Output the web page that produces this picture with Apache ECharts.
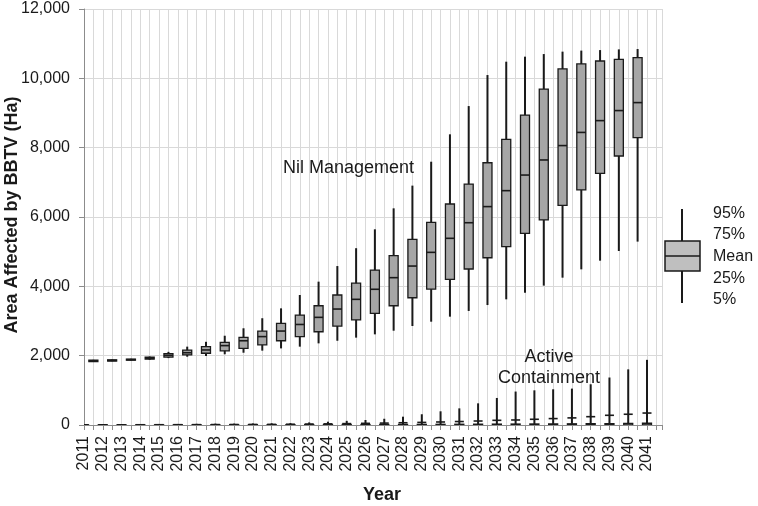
<!DOCTYPE html>
<html>
<head>
<meta charset="utf-8">
<script src="https://cdn.jsdelivr.net/npm/echarts@6/dist/echarts.min.js"></script>
<style>
  html, body { margin: 0; padding: 0; background: #ffffff; }
  #chart { width: 758px; height: 506px; }
</style>
</head>
<body>
<div id="chart"></div>
<script>
// ---- Data ----
const years = ['2011','2012','2013','2014','2015','2016','2017','2018','2019','2020',
               '2021','2022','2023','2024','2025','2026','2027','2028','2029','2030',
               '2031','2032','2033','2034','2035','2036','2037','2038','2039','2040','2041'];

// Nil Management (Ha) - boxes drawn just right of each year label (30 boxes visible)
const nilP5   = [1820,1840,1860,1880,1930,1970,1990,2040,2085,2145,2210,2260,2355,2430,2520,2615,2720,2855,2980,3125,3290,3460,3625,3815,4020,4250,4490,4740,5020,5290];
const nilP25  = [1830,1845,1870,1900,1960,2020,2070,2140,2210,2310,2430,2550,2690,2855,3030,3220,3440,3670,3920,4200,4500,4825,5145,5530,5915,6335,6780,7260,7760,8290];
const nilMean = [1850,1860,1885,1925,2010,2085,2165,2290,2430,2550,2710,2900,3105,3345,3625,3915,4250,4585,4980,5385,5835,6300,6760,7210,7645,8060,8440,8780,9070,9300];
const nilP75  = [1870,1880,1900,1955,2060,2160,2260,2385,2530,2710,2930,3170,3440,3750,4090,4470,4885,5355,5845,6375,6950,7565,8240,8940,9690,10270,10415,10500,10545,10595];
const nilP95  = [1880,1890,1910,1975,2110,2260,2400,2575,2790,3080,3365,3750,4135,4585,5100,5645,6250,6905,7595,8385,9200,10095,10480,10625,10700,10770,10800,10815,10835,10845];

// Active Containment (Ha) - boxes drawn on each year label
const acP5    = [0,0,0,0,0,0,0,0,0,0,0,0,0,0,0,0,0,0,0,0,0,0,0,0,0,0,0,0,0,0,0];
const acP25   = [0,0,0,0,0,0,0,0,0,0,0,0,0,0,0,0,0,0,0,0,0,0,0,0,0,0,0,0,0,0,0];
const acMean  = [5,5,6,7,8,9,10,12,14,16,18,22,28,33,40,48,55,65,75,87,100,115,135,145,165,185,205,240,280,310,345];
const acP75   = [5,5,5,6,6,7,7,8,8,9,10,11,12,13,14,15,16,17,18,20,22,24,26,28,30,32,35,38,42,46,50];
const acP95   = [15,20,25,25,30,30,35,40,40,45,50,55,75,95,120,145,180,240,310,395,480,625,780,965,1000,1030,1050,1175,1370,1605,1880];

const yMin = 0, yMax = 12000, yStep = 2000;

// ---- Chart ----
const FONT = '"Liberation Sans", Arial, Helvetica, sans-serif';
const INK = '#1a1a1a';
const chart = echarts.init(document.getElementById('chart'), null, { renderer: 'canvas' });

function boxItem(params, api) {
  const x = api.value(0);
  const p = [1, 2, 3, 4, 5].map(d => api.coord([x, api.value(d)]));
  const cx = p[0][0];
  const hw = api.size([1, 0])[0] * 0.48;
  return {
    type: 'group',
    children: [
      { type: 'line', shape: { x1: cx, y1: p[0][1], x2: cx, y2: p[4][1] },
        style: { stroke: INK, lineWidth: 2 } },
      { type: 'rect', shape: { x: cx - hw, y: p[3][1], width: 2 * hw, height: Math.max(p[1][1] - p[3][1], 0.5) },
        style: { fill: '#a6a6a6', stroke: INK, lineWidth: 1.3 } },
      { type: 'line', shape: { x1: cx - hw, y1: p[2][1], x2: cx + hw, y2: p[2][1] },
        style: { stroke: INK, lineWidth: 1.6 } }
    ]
  };
}

// half-slot positions: year i label/AC at 2i, Nil at 2i+1
const nilData = nilMean.map((m, i) => [2 * i + 1, nilP5[i], nilP25[i], nilMean[i], nilP75[i], nilP95[i]]);
const acData  = years.map((y, i) => [2 * i, acP5[i], acP25[i], acMean[i], acP75[i], acP95[i]]);

const SLOTS = 61.6;
const PLOT_W = 578;
const slotPx = PLOT_W / SLOTS;

const option = {
  backgroundColor: '#ffffff',
  animation: false,
  textStyle: { fontFamily: FONT, color: INK },
  grid: [
    { left: 84, top: 9, width: PLOT_W, height: 416 },
    { left: 84, top: 9, width: slotPx * 2 * (years.length - 1), height: 416 }
  ],
  xAxis: [
    { gridIndex: 0, type: 'value', min: 0, max: SLOTS, interval: 1,
      axisLine: { show: true, lineStyle: { color: '#8c8c8c', width: 1 } },
      axisTick: { show: true, length: 5, lineStyle: { color: '#8c8c8c' } },
      axisLabel: { show: false },
      splitLine: { show: true, lineStyle: { color: '#d9d9d9', width: 1 } } },
    { gridIndex: 1, type: 'category', data: years, boundaryGap: false,
      axisLine: { show: false }, axisTick: { show: false },
      axisLabel: { rotate: 90, fontSize: 16, fontFamily: FONT, color: INK, margin: 11, interval: 0 },
      splitLine: { show: false } }
  ],
  yAxis: [
    { gridIndex: 0, type: 'value', min: yMin, max: yMax, interval: yStep,
      axisLine: { show: true, lineStyle: { color: '#8c8c8c', width: 1 } },
      axisTick: { show: true, length: 5, lineStyle: { color: '#8c8c8c' } },
      axisLabel: { fontSize: 16, fontFamily: FONT, color: INK, margin: 14,
                   formatter: v => v.toLocaleString('en-US') },
      splitLine: { show: true, lineStyle: { color: '#d9d9d9', width: 1 } } },
    { gridIndex: 1, type: 'value', min: yMin, max: yMax, show: false }
  ],
  series: [
    { type: 'custom', name: 'Nil Management', xAxisIndex: 0, yAxisIndex: 0, clip: true,
      renderItem: boxItem, data: nilData, encode: { x: 0, y: [1, 2, 3, 4, 5] }, z: 5 },
    { type: 'custom', name: 'Active Containment', xAxisIndex: 0, yAxisIndex: 0, clip: true,
      renderItem: boxItem, data: acData, encode: { x: 0, y: [1, 2, 3, 4, 5] }, z: 5 }
  ],
  graphic: [
    { type: 'text', x: 12, y: 215, rotation: Math.PI / 2,
      style: { text: 'Area Affected by BBTV (Ha)', font: 'bold 18px ' + FONT, fill: INK,
               textAlign: 'center', textVerticalAlign: 'middle' } },
    { type: 'text', x: 382, y: 495,
      style: { text: 'Year', font: 'bold 18px ' + FONT, fill: INK,
               textAlign: 'center', textVerticalAlign: 'middle' } },
    { type: 'text', x: 283, y: 168, z: 10,
      style: { text: 'Nil Management', font: '18px ' + FONT, fill: INK,
               textAlign: 'left', textVerticalAlign: 'middle' } },
    { type: 'text', x: 549, y: 357, z: 10,
      style: { text: 'Active', font: '18px ' + FONT, fill: INK,
               textAlign: 'center', textVerticalAlign: 'middle' } },
    { type: 'text', x: 549, y: 378, z: 10,
      style: { text: 'Containment', font: '18px ' + FONT, fill: INK,
               textAlign: 'center', textVerticalAlign: 'middle' } },
    // legend key
    { type: 'line', shape: { x1: 682, y1: 209, x2: 682, y2: 303 }, style: { stroke: INK, lineWidth: 2 } },
    { type: 'rect', shape: { x: 665, y: 241, width: 35, height: 30 },
      style: { fill: '#bfbfbf', stroke: INK, lineWidth: 1.5 } },
    { type: 'line', shape: { x1: 665, y1: 256, x2: 700, y2: 256 }, style: { stroke: INK, lineWidth: 1.5 } },
    { type: 'text', x: 713, y: 214, style: { text: '95%', font: '16px ' + FONT, fill: INK, textVerticalAlign: 'middle' } },
    { type: 'text', x: 713, y: 235, style: { text: '75%', font: '16px ' + FONT, fill: INK, textVerticalAlign: 'middle' } },
    { type: 'text', x: 713, y: 257, style: { text: 'Mean', font: '16px ' + FONT, fill: INK, textVerticalAlign: 'middle' } },
    { type: 'text', x: 713, y: 279, style: { text: '25%', font: '16px ' + FONT, fill: INK, textVerticalAlign: 'middle' } },
    { type: 'text', x: 713, y: 300, style: { text: '5%', font: '16px ' + FONT, fill: INK, textVerticalAlign: 'middle' } }
  ]
};
chart.setOption(option);
</script>
</body>
</html>
